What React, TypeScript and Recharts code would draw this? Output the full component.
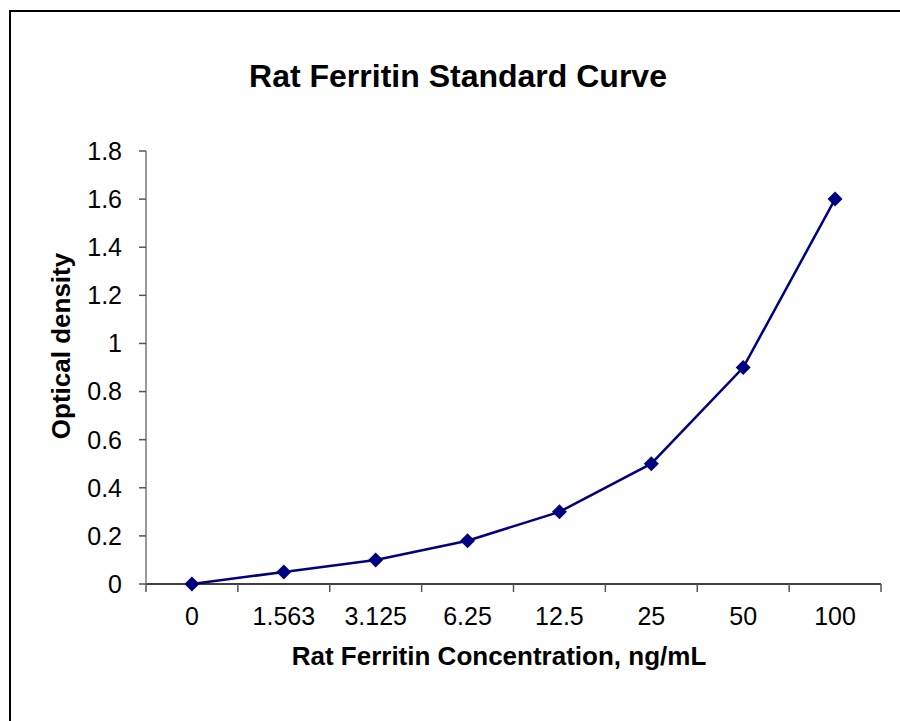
import {
  ComposedChart,
  Line,
  XAxis,
  YAxis,
} from "recharts";

const concentrations = ["0", "1.563", "3.125", "6.25", "12.5", "25", "50", "100"];
const opticalDensity = [0, 0.05, 0.1, 0.18, 0.3, 0.5, 0.9, 1.6];
const yTicks = [0, 0.2, 0.4, 0.6, 0.8, 1, 1.2, 1.4, 1.6, 1.8];

const data = concentrations.map((conc, i) => ({ conc, idx: i, od: opticalDensity[i] }));
// category boundaries, half a step either side of each category
const boundaryTicks = [...concentrations.map((_, i) => i - 0.5), concentrations.length - 0.5];

const font = "'Liberation Sans', Arial, sans-serif";
const navy = "#000080";

const Diamond = (props: any) => {
  const { cx, cy } = props;
  if (cx == null || cy == null) return null;
  const r = 7.5;
  return (
    <path
      d={`M${cx},${cy - r}L${cx + r},${cy}L${cx},${cy + r}L${cx - r},${cy}Z`}
      fill={navy}
      stroke="none"
    />
  );
};

export default function App() {
  return (
    <div
      style={{
        position: "absolute",
        left: 0,
        top: 0,
        width: 900,
        height: 721,
        overflow: "hidden",
        background: "#fff",
        fontFamily: font,
      }}
    >
      <div
        style={{
          position: "absolute",
          left: 9,
          top: 10,
          width: 1000,
          height: 1000,
          borderTop: "2px solid #000",
          borderLeft: "2px solid #000",
        }}
      />
      <div style={{ position: "absolute", left: 0, top: 0 }}>
        <ComposedChart
          width={900}
          height={721}
          data={data}
          margin={{ top: 151, right: 19, left: 0, bottom: 96 }}
        >
          <XAxis
            xAxisId="b"
            dataKey="idx"
            type="number"
            domain={[-0.5, concentrations.length - 0.5]}
            allowDataOverflow
            ticks={boundaryTicks}
            interval={0}
            height={1}
            tickSize={8}
            tickFormatter={() => ""}
            axisLine={{ stroke: "#000", strokeWidth: 1.5 }}
            tickLine={{ stroke: "#555", strokeWidth: 1.5 }}
          />
          <XAxis
            xAxisId="cat"
            dataKey="conc"
            type="category"
            scale="band"
            height={40}
            axisLine={false}
            tickLine={false}
            tickSize={0}
            tickMargin={22}
            tick={{ fill: "#000", fontSize: 25, fontFamily: font }}
          />
          <YAxis
            width={146}
            domain={[0, 1.8]}
            ticks={yTicks}
            tickSize={7}
            tickMargin={17}
            axisLine={{ stroke: "#777", strokeWidth: 1.5 }}
            tickLine={{ stroke: "#555", strokeWidth: 1.5 }}
            tick={{ fill: "#000", fontSize: 25, fontFamily: font }}
          />
          <Line
            xAxisId="cat"
            dataKey="od"
            type="linear"
            stroke={navy}
            strokeWidth={2.5}
            dot={<Diamond />}
            activeDot={false}
            isAnimationActive={false}
          />
        </ComposedChart>
      </div>
      <svg
        width={900}
        height={721}
        style={{ position: "absolute", left: 0, top: 0, pointerEvents: "none" }}
      >
        <text x={458} y={87} textAnchor="middle" fontSize={32} fontWeight="bold" fontFamily={font} fill="#000">
          Rat Ferritin Standard Curve
        </text>
        <text x={499} y={665} textAnchor="middle" fontSize={26} fontWeight="bold" fontFamily={font} fill="#000">
          Rat Ferritin Concentration, ng/mL
        </text>
        <text
          x={70}
          y={346}
          textAnchor="middle"
          fontSize={26}
          fontWeight="bold"
          fontFamily={font}
          fill="#000"
          transform="rotate(-90, 70, 346)"
        >
          Optical density
        </text>
      </svg>
    </div>
  );
}
